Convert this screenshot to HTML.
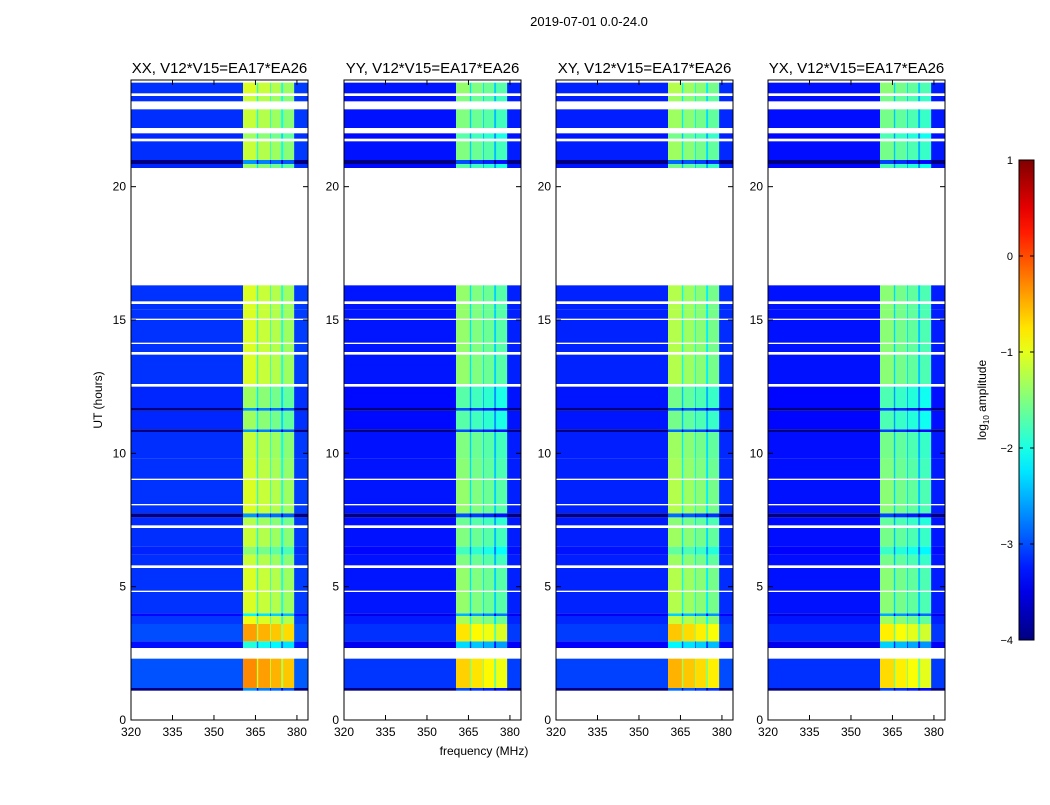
<!DOCTYPE html>
<html><head><meta charset="utf-8"><style>
body{margin:0;background:#fff;font-family:"Liberation Sans",sans-serif}
svg text{font-family:"Liberation Sans","DejaVu Sans",sans-serif}
</style></head><body>
<svg id="c" width="1050" height="800">
<text x="589" y="26" font-size="13" text-anchor="middle">2019-07-01 0.0-24.0</text>
</svg>
<script>
// Frequency channel edges (MHz) and per-channel base log amplitude
const chanStart=[320,360.5,365.5,366,370.3,370.6,374.3,375,379];
const chanEnd=[360.5,365.5,366,370.3,370.6,374.3,375,379,384];
const chanLevel=[-3.15,-1.15,-2.0,-1.25,-2.0,-1.35,-2.1,-1.45,-3.1];
// Time segments (hours) with row offset; gaps are flagged (white)
const segStart=[1.1,1.2,2.7,2.95,3.6,3.9,4.0,4.85,5.8,6.2,6.5,7.3,7.6,7.75,8.1,9.05,9.8,10.8,10.9,11.6,11.7,12.6,13.8,14.15,15.05,15.4,15.7,20.7,20.85,21.0,21.8,22.2,23.2,23.5];
const segEnd=[1.2,2.3,2.95,3.6,3.9,4.0,4.8,5.7,6.2,6.5,7.2,7.6,7.75,8.05,9.0,9.8,10.8,10.9,11.6,11.7,12.5,13.7,14.1,15.0,15.4,15.6,16.3,20.85,21.0,21.7,22.0,22.9,23.4,23.9,24.0];
const segOffset=[-1.5,0.85,-0.8,0.75,0.2,-1,0.1,0.1,0,-0.3,0,-0.1,-1.5,0.1,0.1,0.05,0,-1.5,-0.2,-1.5,-0.2,0.1,0.1,0.1,0.1,0.1,0.1,-0.2,-1.5,0,-0.2,0,0,0.1];
// Panels
const panelNames=["XX","YY","XY","YX"];
const panelGain=[0,-0.35,-0.2,-0.4];
const panelLeft=[131,344,556,768];
const xTicks=[320,335,350,365,380];
const yTicks=[0,5,10,15,20];
const cbTicks=[1,0,-1,-2,-3,-4];

const NS="http://www.w3.org/2000/svg";
const svg=document.getElementById('c');
const W=177,TOP=80,BOT=720;
function mk(t,a,p){const e=document.createElementNS(NS,t);for(const k in a)e.setAttribute(k,a[k]);(p||svg).appendChild(e);return e;}
function yS(h){return BOT-(h/24)*(BOT-TOP);}
function jet(t){t=Math.max(0,Math.min(1,t));
 const r=Math.max(0,Math.min(1,1.5-Math.abs(4*t-3))),g=Math.max(0,Math.min(1,1.5-Math.abs(4*t-2))),b=Math.max(0,Math.min(1,1.5-Math.abs(4*t-1)));
 return `rgb(${Math.round(r*255)},${Math.round(g*255)},${Math.round(b*255)})`;}
function cval(v){return jet((v+4)/5);}

panelNames.forEach((nm,p)=>{
 const L=panelLeft[p];
 const xS=f=>L+(f-320)/64*W;
 const g=mk('g',{});
 
 
 for(let s=0;s<segStart.length;s++){
  for(let c=0;c<chanStart.length;c++){
   let v=chanLevel[c];
   if(c===0||c===8) v+= (segOffset[s]<-1?segOffset[s]:segOffset[s]*0.2)+panelGain[p]*0.4;
   else v+=segOffset[s]+panelGain[p];
   const r=mk('rect',{x:xS(chanStart[c]),y:yS(segEnd[s]),width:xS(chanEnd[c])-xS(chanStart[c])+0.3,height:yS(segStart[s])-yS(segEnd[s]),fill:cval(v)},g);
   
   
  }
 }
 const fr=mk('rect',{x:L,y:TOP,width:W,height:BOT-TOP,fill:'none',stroke:'#000','stroke-width':1});
 
 
 xTicks.forEach(t=>{const x=xS(t);
  mk('line',{x1:x,x2:x,y1:BOT,y2:BOT-5,stroke:'#000'});
  mk('line',{x1:x,x2:x,y1:TOP,y2:TOP+5,stroke:'#000'});
  const tx=mk('text',{x:x,y:BOT+16,'font-size':12,'text-anchor':'middle'});tx.textContent=t;
  
  });
 yTicks.forEach(t=>{const y=yS(t);
  mk('line',{x1:L,x2:L+5,y1:y,y2:y,stroke:'#000'});
  mk('line',{x1:L+W,x2:L+W-5,y1:y,y2:y,stroke:'#000'});
  const tx=mk('text',{x:L-5,y:y+4,'font-size':12,'text-anchor':'end'});tx.textContent=t;
  
  });
 const tt=mk('text',{x:L+W/2,y:73,'font-size':15,'text-anchor':'middle'});
 tt.textContent=nm+', V12*V15=EA17*EA26';
 
 
});
const yl=mk('text',{x:0,y:0,'font-size':12,'text-anchor':'middle',transform:'translate(102,400) rotate(-90)'});
yl.textContent='UT (hours)';


const xl=mk('text',{x:484,y:755,'font-size':12,'text-anchor':'middle'});
xl.textContent='frequency (MHz)';


// colorbar
const defs=mk('defs',{});
const lg=mk('linearGradient',{id:'jet',x1:0,y1:1,x2:0,y2:0},defs);
for(let i=0;i<=20;i++)mk('stop',{offset:i/20,'stop-color':jet(i/20)},lg);
const cb=mk('rect',{x:1019,y:160,width:15,height:480,fill:'url(#jet)',stroke:'#000'});


cbTicks.forEach(t=>{const y=640-(t+4)/5*480;
 mk('line',{x1:1019,x2:1023,y1:y,y2:y,stroke:'#000'});
 mk('line',{x1:1034,x2:1030,y1:y,y2:y,stroke:'#000'});
 const tx=mk('text',{x:1013,y:y+4,'font-size':11,'text-anchor':'end'});
 tx.textContent=t<0?'\u2212'+(-t):t;
 
 });
const cl=mk('text',{x:0,y:0,'font-size':12,'text-anchor':'middle',transform:'translate(986,400) rotate(-90)'});
cl.innerHTML='log<tspan font-size="8" dy="3">10</tspan><tspan dy="-3"> amplitude</tspan>';


</script>
</body></html>
